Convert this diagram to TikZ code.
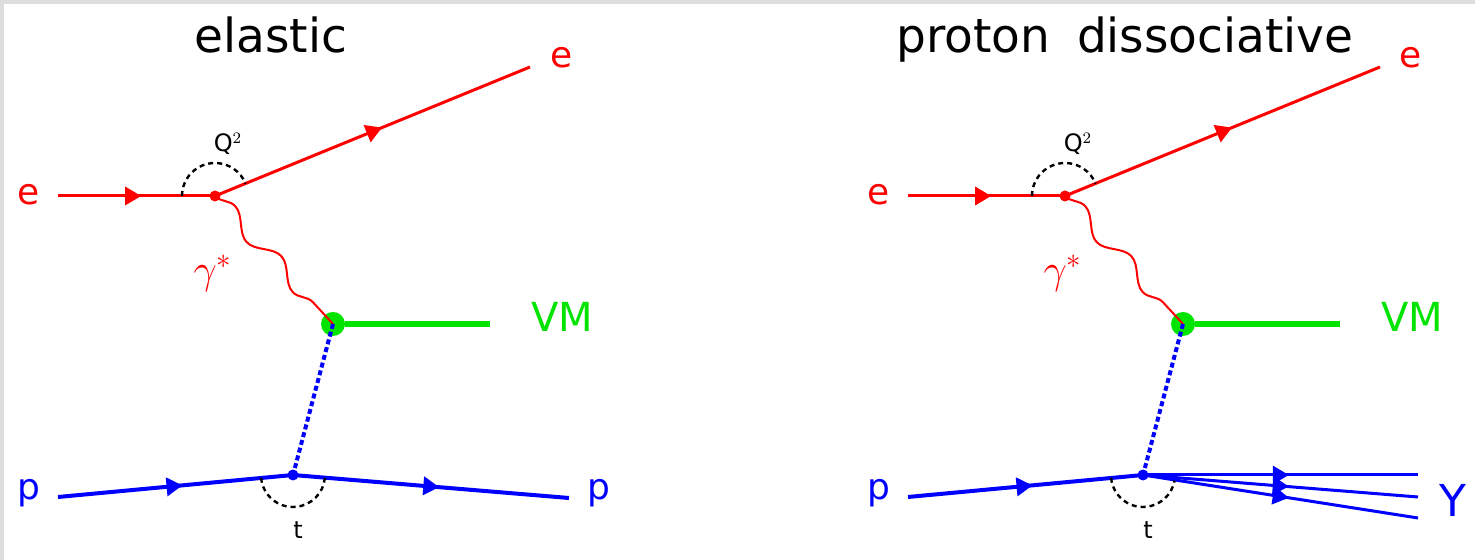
\documentclass[tikz,border=0pt]{standalone}
\usepackage{fontspec}
\setmainfont{DejaVu Sans}
\usepackage{tikz}
\usetikzlibrary{arrows.meta,positioning,decorations.pathmorphing,decorations.markings}
\definecolor{vmgreen}{RGB}{0,228,0}
\definecolor{framegray}{RGB}{221,221,221}

\begin{document}
\begin{tikzpicture}[x=0.5pt, y=0.5pt,
  every node/.style={inner sep=0pt},
  title/.style={font=\fontsize{23.5}{26}\selectfont, anchor=base},
  lbl/.style={font=\fontsize{18}{20}\selectfont},
  small/.style={font=\fontsize{12}{14}\selectfont},
  electron/.style={red, line width=1.5pt, postaction={decorate},
    decoration={markings, mark=at position 0.53 with {\arrow{Triangle[length=8pt,width=9pt]}}}},
  proton/.style={blue, line width=2pt, postaction={decorate},
    decoration={markings, mark=at position 0.53 with {\arrow{Triangle[length=8pt,width=9pt]}}}},
  photon/.style={red, line width=1pt, decorate,
    decoration={snake, segment length=34pt, amplitude=4pt}},
  pomeron/.style={blue, line width=2pt, dash pattern=on 2.5pt off 1.5pt},
  angle/.style={black, line width=1.2pt, dash pattern=on 2.5pt off 2pt},
  blob/.style={circle, fill=vmgreen, minimum size=12pt},
  vtx/.style={circle, fill=#1, minimum size=5.5pt}]

\useasboundingbox (0,0) rectangle (1475,560);
\fill[framegray] (0,0) rectangle (1475,560);
\fill[white] (4,0) rectangle (1475,556);

% elastic
\node[title] (titleA) at (271,507) {elastic};
\coordinate (eInA) at (58,364);
\coordinate (eOutA) at (530,493);
\node[vtx=red] (vtxA) at (215,364) {};
\node[lbl, red] (eInLabA) at (29,365) {e};
\node[lbl, red] (eOutLabA) at (562,502) {e};
\draw[electron] (eInA) -- (vtxA.center);
\draw[electron] (vtxA.center) -- (eOutA);
\draw[angle] ([shift={(180:33)}]vtxA.center) arc[start angle=180, end angle=22, radius=33];
\node[small] (q2A) at (228,416) {Q$^2$};
\node[blob] (blobA) at (333,236) {};
\coordinate (vmEndA) at (490,236);
\draw[vmgreen, line width=3pt] (blobA) -- (vmEndA);
\node[lbl, vmgreen, font=\fontsize{20}{22}\selectfont] (vmA) at (562,243) {VM};
\draw[photon] (vtxA.center) -- (blobA.center);
\node[red, font=\fontsize{20}{22}\selectfont] (gamA) at (213,287) {$\gamma^*$};
\node[vtx=blue] (pvtxA) at (293,85) {};
\draw[pomeron] (blobA.center) -- (pvtxA.center);
\coordinate (pInA) at (58,63);
\coordinate (pOutA) at (569,62);
\draw[proton] (pInA) -- (pvtxA.center);
\draw[proton] (pvtxA.center) -- (pOutA);
\node[lbl, blue] (pInLabA) at (29,67) {p};
\node[lbl, blue] (pOutLabA) at (599,67) {p};
\draw[angle] ([shift={(185:32)}]pvtxA.center) arc[start angle=185, end angle=355, radius=32];
\node[small] (tA) at (298,30) {t};

% proton dissociative
\node[title] (titleB) at (1125,507) {proton\hspace{0.25em} dissociative};
\coordinate (eInB) at (908,364);
\coordinate (eOutB) at (1380,493);
\node[vtx=red] (vtxB) at (1065,364) {};
\node[lbl, red] (eInLabB) at (879,365) {e};
\node[lbl, red] (eOutLabB) at (1411,502) {e};
\draw[electron] (eInB) -- (vtxB.center);
\draw[electron] (vtxB.center) -- (eOutB);
\draw[angle] ([shift={(180:33)}]vtxB.center) arc[start angle=180, end angle=22, radius=33];
\node[small] (q2B) at (1078,416) {Q$^2$};
\node[blob] (blobB) at (1183,236) {};
\coordinate (vmEndB) at (1340,236);
\draw[vmgreen, line width=3pt] (blobB) -- (vmEndB);
\node[lbl, vmgreen, font=\fontsize{20}{22}\selectfont] (vmB) at (1412,243) {VM};
\draw[photon] (vtxB.center) -- (blobB.center);
\node[red, font=\fontsize{20}{22}\selectfont] (gamB) at (1063,287) {$\gamma^*$};
\node[vtx=blue] (pvtxB) at (1143,85) {};
\draw[pomeron] (blobB.center) -- (pvtxB.center);
\coordinate (pInB) at (908,63);
\draw[proton] (pInB) -- (pvtxB.center);
\node[lbl, blue] (pInLabB) at (879,67) {p};
\coordinate (yTopB) at (1418,85);
\coordinate (yMidB) at (1418,63);
\coordinate (yLowB) at (1418,42);
\draw[proton, line width=1.5pt] (pvtxB.center) -- (yTopB);
\draw[proton, line width=1.5pt] (pvtxB.center) -- (yMidB);
\draw[proton, line width=1.5pt] (pvtxB.center) -- (yLowB);
\node[blue, font=\fontsize{22}{24}\selectfont] (yLabB) at (1453,60) {Y};
\draw[angle] ([shift={(185:32)}]pvtxB.center) arc[start angle=185, end angle=350, radius=32];
\node[small] (tB) at (1148,30) {t};
\end{tikzpicture}
\end{document}
